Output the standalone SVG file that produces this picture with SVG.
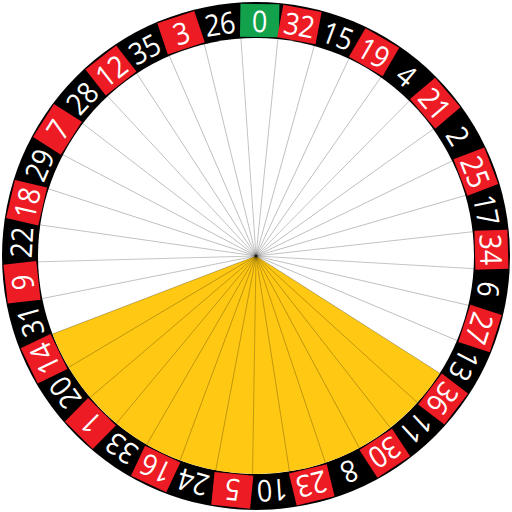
<svg xmlns="http://www.w3.org/2000/svg" xmlns:xlink="http://www.w3.org/1999/xlink" width="512" height="512" viewBox="0 0 512 512">
<style>
.num{font-family:"Open Sans","Liberation Sans",sans-serif;font-size:30px;fill:#fff;text-anchor:middle}
.red{fill:#ED1C24}
.green{fill:#12A24C}
.div{stroke:#000;stroke-opacity:0.33;stroke-width:0.7}
</style>
<defs>
<rect id="box" x="236.5" y="4" width="39" height="33"/>
<line id="ln" x1="256" y1="256" x2="256" y2="38"/>
</defs>
<rect width="512" height="512" fill="#fff"/>
<circle id="rim" cx="256" cy="256" r="254" fill="#000"/>
<circle id="bowl" cx="256" cy="256" r="218" fill="#fff"/>
<path id="sector" d="M256,256 L439.8,373.2 A218,218 0 0 1 52.5,334.1 Z" fill="#FFC812"/>
<g id="connectors" class="div">
<use xlink:href="#ln" transform="rotate(5.765 256 256)"/>
<use xlink:href="#ln" transform="rotate(15.495 256 256)"/>
<use xlink:href="#ln" transform="rotate(25.224 256 256)"/>
<use xlink:href="#ln" transform="rotate(34.954 256 256)"/>
<use xlink:href="#ln" transform="rotate(44.684 256 256)"/>
<use xlink:href="#ln" transform="rotate(54.414 256 256)"/>
<use xlink:href="#ln" transform="rotate(64.143 256 256)"/>
<use xlink:href="#ln" transform="rotate(73.873 256 256)"/>
<use xlink:href="#ln" transform="rotate(83.603 256 256)"/>
<use xlink:href="#ln" transform="rotate(93.332 256 256)"/>
<use xlink:href="#ln" transform="rotate(103.062 256 256)"/>
<use xlink:href="#ln" transform="rotate(112.792 256 256)"/>
<use xlink:href="#ln" transform="rotate(122.522 256 256)"/>
<use xlink:href="#ln" transform="rotate(132.251 256 256)"/>
<use xlink:href="#ln" transform="rotate(141.981 256 256)"/>
<use xlink:href="#ln" transform="rotate(151.711 256 256)"/>
<use xlink:href="#ln" transform="rotate(161.441 256 256)"/>
<use xlink:href="#ln" transform="rotate(171.170 256 256)"/>
<use xlink:href="#ln" transform="rotate(180.900 256 256)"/>
<use xlink:href="#ln" transform="rotate(190.630 256 256)"/>
<use xlink:href="#ln" transform="rotate(200.359 256 256)"/>
<use xlink:href="#ln" transform="rotate(210.089 256 256)"/>
<use xlink:href="#ln" transform="rotate(219.819 256 256)"/>
<use xlink:href="#ln" transform="rotate(229.549 256 256)"/>
<use xlink:href="#ln" transform="rotate(239.278 256 256)"/>
<use xlink:href="#ln" transform="rotate(249.008 256 256)"/>
<use xlink:href="#ln" transform="rotate(258.738 256 256)"/>
<use xlink:href="#ln" transform="rotate(268.468 256 256)"/>
<use xlink:href="#ln" transform="rotate(278.197 256 256)"/>
<use xlink:href="#ln" transform="rotate(287.927 256 256)"/>
<use xlink:href="#ln" transform="rotate(297.657 256 256)"/>
<use xlink:href="#ln" transform="rotate(307.386 256 256)"/>
<use xlink:href="#ln" transform="rotate(317.116 256 256)"/>
<use xlink:href="#ln" transform="rotate(326.846 256 256)"/>
<use xlink:href="#ln" transform="rotate(336.576 256 256)"/>
<use xlink:href="#ln" transform="rotate(346.305 256 256)"/>
<use xlink:href="#ln" transform="rotate(356.035 256 256)"/>
</g>
<g id="p0" transform="rotate(0.9 256 256)"><use xlink:href="#box" class="green"/><text class="num" transform="translate(256 32) scale(0.9 1)">0</text></g>
<g id="p32" transform="rotate(10.63 256 256)"><use xlink:href="#box" class="red"/><text class="num" transform="translate(256 32) scale(0.9 1)">32</text></g>
<g id="p15" transform="rotate(20.36 256 256)"><text class="num" transform="translate(256 32) scale(0.9 1)">15</text></g>
<g id="p19" transform="rotate(30.09 256 256)"><use xlink:href="#box" class="red"/><text class="num" transform="translate(256 32) scale(0.9 1)">19</text></g>
<g id="p4" transform="rotate(39.82 256 256)"><text class="num" transform="translate(256 32) scale(0.9 1)">4</text></g>
<g id="p21" transform="rotate(49.55 256 256)"><use xlink:href="#box" class="red"/><text class="num" transform="translate(256 32) scale(0.9 1)">21</text></g>
<g id="p2" transform="rotate(59.28 256 256)"><text class="num" transform="translate(256 32) scale(0.9 1)">2</text></g>
<g id="p25" transform="rotate(69.01 256 256)"><use xlink:href="#box" class="red"/><text class="num" transform="translate(256 32) scale(0.9 1)">25</text></g>
<g id="p17" transform="rotate(78.74 256 256)"><text class="num" transform="translate(256 32) scale(0.9 1)">17</text></g>
<g id="p34" transform="rotate(88.47 256 256)"><use xlink:href="#box" class="red"/><text class="num" transform="translate(256 32) scale(0.9 1)">34</text></g>
<g id="p6" transform="rotate(98.20 256 256)"><text class="num" transform="translate(256 32) scale(0.9 1)">6</text></g>
<g id="p27" transform="rotate(107.93 256 256)"><use xlink:href="#box" class="red"/><text class="num" transform="translate(256 32) scale(0.9 1)">27</text></g>
<g id="p13" transform="rotate(117.66 256 256)"><text class="num" transform="translate(256 32) scale(0.9 1)">13</text></g>
<g id="p36" transform="rotate(127.39 256 256)"><use xlink:href="#box" class="red"/><text class="num" transform="translate(256 32) scale(0.9 1)">36</text></g>
<g id="p11" transform="rotate(137.12 256 256)"><text class="num" transform="translate(256 32) scale(0.9 1)">11</text></g>
<g id="p30" transform="rotate(146.85 256 256)"><use xlink:href="#box" class="red"/><text class="num" transform="translate(256 32) scale(0.9 1)">30</text></g>
<g id="p8" transform="rotate(156.58 256 256)"><text class="num" transform="translate(256 32) scale(0.9 1)">8</text></g>
<g id="p23" transform="rotate(166.31 256 256)"><use xlink:href="#box" class="red"/><text class="num" transform="translate(256 32) scale(0.9 1)">23</text></g>
<g id="p10" transform="rotate(176.04 256 256)"><text class="num" transform="translate(256 32) scale(0.9 1)">10</text></g>
<g id="p5" transform="rotate(185.77 256 256)"><use xlink:href="#box" class="red"/><text class="num" transform="translate(256 32) scale(0.9 1)">5</text></g>
<g id="p24" transform="rotate(195.50 256 256)"><text class="num" transform="translate(256 32) scale(0.9 1)">24</text></g>
<g id="p16" transform="rotate(205.22 256 256)"><use xlink:href="#box" class="red"/><text class="num" transform="translate(256 32) scale(0.9 1)">16</text></g>
<g id="p33" transform="rotate(214.95 256 256)"><text class="num" transform="translate(256 32) scale(0.9 1)">33</text></g>
<g id="p1" transform="rotate(224.68 256 256)"><use xlink:href="#box" class="red"/><text class="num" transform="translate(256 32) scale(0.9 1)">1</text></g>
<g id="p20" transform="rotate(234.41 256 256)"><text class="num" transform="translate(256 32) scale(0.9 1)">20</text></g>
<g id="p14" transform="rotate(244.14 256 256)"><use xlink:href="#box" class="red"/><text class="num" transform="translate(256 32) scale(0.9 1)">14</text></g>
<g id="p31" transform="rotate(253.87 256 256)"><text class="num" transform="translate(256 32) scale(0.9 1)">31</text></g>
<g id="p9" transform="rotate(263.60 256 256)"><use xlink:href="#box" class="red"/><text class="num" transform="translate(256 32) scale(0.9 1)">9</text></g>
<g id="p22" transform="rotate(273.33 256 256)"><text class="num" transform="translate(256 32) scale(0.9 1)">22</text></g>
<g id="p18" transform="rotate(283.06 256 256)"><use xlink:href="#box" class="red"/><text class="num" transform="translate(256 32) scale(0.9 1)">18</text></g>
<g id="p29" transform="rotate(292.79 256 256)"><text class="num" transform="translate(256 32) scale(0.9 1)">29</text></g>
<g id="p7" transform="rotate(302.52 256 256)"><use xlink:href="#box" class="red"/><text class="num" transform="translate(256 32) scale(0.9 1)">7</text></g>
<g id="p28" transform="rotate(312.25 256 256)"><text class="num" transform="translate(256 32) scale(0.9 1)">28</text></g>
<g id="p12" transform="rotate(321.98 256 256)"><use xlink:href="#box" class="red"/><text class="num" transform="translate(256 32) scale(0.9 1)">12</text></g>
<g id="p35" transform="rotate(331.71 256 256)"><text class="num" transform="translate(256 32) scale(0.9 1)">35</text></g>
<g id="p3" transform="rotate(341.44 256 256)"><use xlink:href="#box" class="red"/><text class="num" transform="translate(256 32) scale(0.9 1)">3</text></g>
<g id="p26" transform="rotate(351.17 256 256)"><text class="num" transform="translate(256 32) scale(0.9 1)">26</text></g>
</svg>
